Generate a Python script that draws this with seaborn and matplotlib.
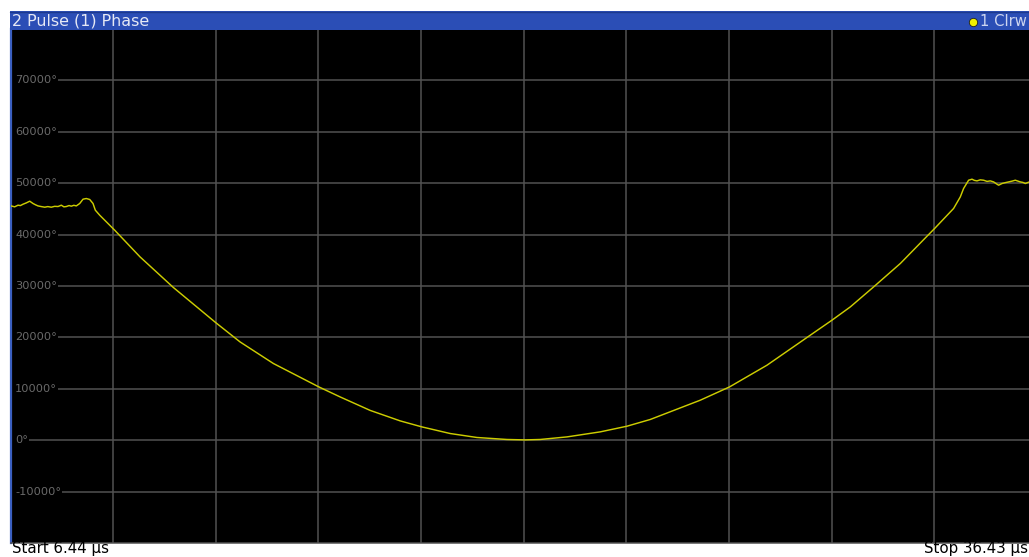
import matplotlib
matplotlib.use("Agg")
import matplotlib.pyplot as plt
from matplotlib.patches import Rectangle
from matplotlib.lines import Line2D
import numpy as np
import pandas as pd
import seaborn as sns

# Phase trace of pulse 1 (time in microseconds, phase in degrees)
time_us = [
    6.44, 6.463, 6.56, 6.659, 6.73, 6.805, 6.902, 7.001, 7.098, 7.17, 7.244,
    7.34, 7.440, 7.53, 7.632, 7.73, 7.828, 7.925, 8.00, 8.071, 8.15, 8.217,
    8.29, 8.363, 8.462, 8.559, 8.655, 8.755, 8.851, 8.918, 9.047, 9.290,
    9.485, 10.225, 11.198, 12.446, 13.147, 14.121, 15.448, 16.070, 16.947,
    17.824, 18.458, 19.285, 20.065, 20.942, 21.477, 21.915, 22.696, 23.669,
    24.449, 25.130, 26.591, 27.448, 28.541, 29.806, 30.440, 30.975, 31.656,
    32.437, 33.217, 33.439, 33.993, 34.189, 34.285, 34.432, 34.531, 34.60,
    34.677, 34.77, 34.870, 34.97, 35.066, 35.163, 35.24, 35.309, 35.408,
    35.50, 35.601, 35.70, 35.796, 35.943, 36.02, 36.089, 36.206, 36.30, 36.44,
]
phase_deg = [
    45500, 45580, 45400, 45720, 45650, 45910, 46170, 46500, 46050, 45800,
    45580, 45450, 45330, 45450, 45330, 45500, 45460, 45720, 45400, 45460,
    45650, 45530, 45700, 45580, 46050, 46890, 47020, 46830, 46050, 44750,
    43770, 42150, 40850, 35660, 29710, 22820, 19120, 14920, 10370, 8420,
    5800, 3760, 2590, 1300, 530, 140, 60, 140, 640, 1620, 2720, 4030, 7780,
    10370, 14590, 20430, 23350, 25930, 29820, 34380, 39690, 41190, 45080,
    47330, 48970, 50580, 50780, 50550, 50450, 50650, 50580, 50350, 50450,
    50250, 49900, 49610, 49940, 50100, 50250, 50400, 50580, 50250, 50150,
    49940, 50250, 50350, 50300,
]

y_gridlines = [-10000, 0, 10000, 20000, 30000, 40000, 50000, 60000, 70000]
title_text = "2 Pulse (1) Phase"
trace_text = "1 Clrw"
start_text = "Start 6.44 µs"
stop_text = "Stop 36.43 µs"
x_start, x_stop = 6.44, 36.43
y_min, y_max = -20000, 80000

trace = pd.DataFrame({"time": time_us, "phase": phase_deg})

sns.set_style("white")
plt.rcParams["font.family"] = ["DejaVu Sans"]

W, H = 1029, 557
fig = plt.figure(figsize=(W / 100, H / 100), dpi=100)
fig.patch.set_facecolor("white")

# Diagram area extends slightly past the right edge of the window
ax_w = 1026.5
ax = fig.add_axes([10.5 / W, 14 / H, ax_w / W, 514 / H])
ax.set_facecolor("black")

sns.lineplot(data=trace, x="time", y="phase", ax=ax, color="#cccc00",
             linewidth=1.05, zorder=5)

ax.set_xlim(x_start, x_stop)
ax.set_ylim(y_min, y_max)
ax.set_xticks(np.linspace(x_start, x_stop, 11))
ax.set_yticks(y_gridlines)
ax.tick_params(left=False, bottom=False, labelleft=False, labelbottom=False)
ax.grid(True, color="#525252", linewidth=1.1)
ax.set_axisbelow(True)
ax.set_xlabel("")
ax.set_ylabel("")

for side in ("top", "right"):
    ax.spines[side].set_visible(False)
ax.spines["left"].set_color("#3a5fc0")
ax.spines["left"].set_linewidth(1.6)
ax.spines["bottom"].set_color("#525252")
ax.spines["bottom"].set_linewidth(1.1)

# Level labels sit inside the diagram, the grid starts after them
ax.add_patch(Rectangle((0, 0), 4.5 / ax_w, 1, transform=ax.transAxes,
                       facecolor="black", edgecolor="none", zorder=2))
for v in y_gridlines:
    ax.text(4.5 / ax_w, v, f"{v}°", transform=ax.get_yaxis_transform(),
            ha="left", va="center", fontsize=8.2, color="#6a6a6a", zorder=3,
            bbox=dict(facecolor="black", edgecolor="none", pad=0.9))

# Window title bar
fig.add_artist(Rectangle((9.5 / W, (H - 30) / H), (W - 9.5) / W, 18.5 / H,
                         transform=fig.transFigure, facecolor="#2b4eb6",
                         edgecolor="none", zorder=1))
fig.add_artist(Line2D([9.5 / W, 1], [(H - 12) / H] * 2,
                      transform=fig.transFigure, color="#1d3a8e",
                      linewidth=1.0, zorder=2))
fig.text(12.5 / W, (H - 21) / H, title_text, ha="left", va="center",
         fontsize=11.4, color="#e6e9f5", zorder=3)
fig.add_artist(Line2D([972.5 / W], [(H - 22.3) / H], transform=fig.transFigure,
                      marker="o", markersize=6, markerfacecolor="#f0f000",
                      markeredgecolor="#202020", markeredgewidth=0.6,
                      linestyle="none", zorder=3))
fig.text(980 / W, (H - 21.5) / H, trace_text, ha="left", va="center",
         fontsize=10.6, color="#cdd5f0", zorder=3)

# Sweep range annotations below the diagram
fig.text(12 / W, (H - 549) / H, start_text, ha="left", va="center",
         fontsize=10.8, color="black")
fig.text(1027.5 / W, (H - 549) / H, stop_text, ha="right", va="center",
         fontsize=10.8, color="black")

fig.savefig("out.png", dpi=100, facecolor="white")
